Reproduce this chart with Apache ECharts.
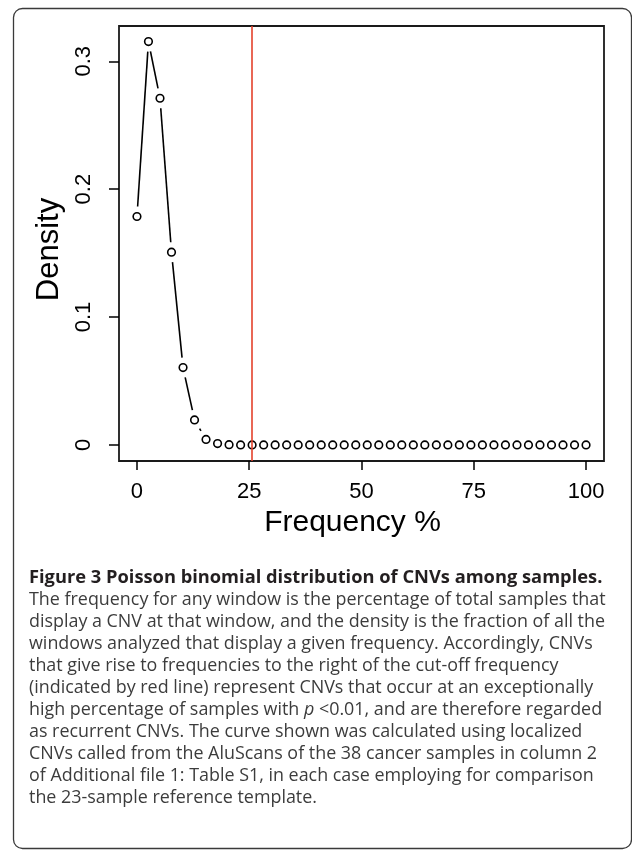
<!DOCTYPE html>
<html>
<head>
<meta charset="utf-8">
<script src="https://cdn.jsdelivr.net/npm/echarts@6/dist/echarts.min.js"></script>
<style>
html,body{margin:0;padding:0;background:#fff;}
#chart{width:632px;height:852px;}
</style>
</head>
<body>
<div id="chart"></div>
<script>
// Frequency (%) of each window class
const freq = [0, 2.56, 5.13, 7.69, 10.26, 12.82, 15.38, 17.95, 20.51, 23.08,
  25.64, 28.21, 30.77, 33.33, 35.90, 38.46, 41.03, 43.59, 46.15, 48.72,
  51.28, 53.85, 56.41, 58.97, 61.54, 64.10, 66.67, 69.23, 71.79, 74.36,
  76.92, 79.49, 82.05, 84.62, 87.18, 89.74, 92.31, 94.87, 97.44, 100];
// Density
const density = [0.1786, 0.3154, 0.2711, 0.1507, 0.0605, 0.0195, 0.0043, 0.0010, 0.0002, 0,
  0, 0, 0, 0, 0, 0, 0, 0, 0, 0,
  0, 0, 0, 0, 0, 0, 0, 0, 0, 0,
  0, 0, 0, 0, 0, 0, 0, 0, 0, 0];
const cutoff = 25.64;
const xTicks = [0, 25, 50, 75, 100];
const yTicks = [0, 0.1, 0.2, 0.3];
const yTickLabels = ['0', '0.1', '0.2', '0.3'];
const xTitle = 'Frequency %';
const yTitle = 'Density';
const captionTitle = 'Figure 3 Poisson binomial distribution of CNVs among samples.';
const captionLines = [
  'The frequency for any window is the percentage of total samples that',
  'display a CNV at that window, and the density is the fraction of all the',
  'windows analyzed that display a given frequency. Accordingly, CNVs',
  'that give rise to frequencies to the right of the cut-off frequency',
  '(indicated by red line) represent CNVs that occur at an exceptionally',
  'high percentage of samples with {i|p} <0.01, and are therefore regarded',
  'as recurrent CNVs. The curve shown was calculated using localized',
  'CNVs called from the AluScans of the 38 cancer samples in column 2',
  'of Additional file 1: Table S1, in each case employing for comparison',
  'the 23-sample reference template.'
];

const points = freq.map((f, i) => [f, density[i]]);
const segs = [];
for (let i = 0; i < points.length - 1; i++) {
  segs.push([points[i][0], points[i][1], points[i + 1][0], points[i + 1][1]]);
}
const GAP = 10;
const AXFONT = '"Liberation Sans", Arial, Helvetica, sans-serif';
const CAPFONT = '"Open Sans", "Noto Sans", sans-serif';
const BODYSIZE = 17.9;

const graphics = [
  {
    type: 'rect', silent: true,
    shape: { x: 13.5, y: 8.5, width: 618, height: 840, r: 9 },
    style: { fill: 'none', stroke: '#3a3a3a', lineWidth: 1.3 }
  },
  {
    type: 'text', x: 29, y: 578,
    style: { text: captionTitle, font: 'bold 18.3px ' + CAPFONT, fill: '#231f20', verticalAlign: 'middle' }
  }
];
captionLines.forEach((t, i) => {
  graphics.push({
    type: 'text', x: 29, y: 600 + i * 22,
    style: {
      text: t, font: BODYSIZE + 'px ' + CAPFONT, fill: '#3c3c3c', verticalAlign: 'middle',
      rich: { i: { fontStyle: 'italic', fontFamily: CAPFONT, fontSize: BODYSIZE, fill: '#3c3c3c' } }
    }
  });
});

const chart = echarts.init(document.getElementById('chart'), null, { renderer: 'canvas' });
chart.setOption({
  animation: false,
  backgroundColor: '#fff',
  grid: {
    left: 119, top: 26, right: 28, bottom: 391,
    show: true, borderColor: '#1a1a1a', borderWidth: 1.8, backgroundColor: 'transparent'
  },
  xAxis: {
    type: 'value', min: -4, max: 104,
    name: xTitle, nameLocation: 'middle', nameGap: 47,
    nameTextStyle: { fontFamily: AXFONT, fontSize: 30, color: '#000', padding: [0, 18, 0, 0] },
    axisLine: { show: false, onZero: false },
    splitLine: { show: false },
    axisTick: { show: true, length: 9, customValues: xTicks, lineStyle: { color: '#000', width: 1.5 } },
    axisLabel: { customValues: xTicks, margin: 20, fontFamily: AXFONT, fontSize: 22, color: '#000' }
  },
  yAxis: {
    type: 'value', min: -0.0126, max: 0.3276,
    name: yTitle, nameLocation: 'middle', nameGap: 54, nameRotate: 90,
    nameTextStyle: { fontFamily: AXFONT, fontSize: 31, color: '#000', padding: [0, 12, 0, 0] },
    axisLine: { show: false, onZero: false },
    splitLine: { show: false },
    axisTick: { show: true, length: 10, customValues: yTicks, lineStyle: { color: '#000', width: 1.5 } },
    axisLabel: {
      customValues: yTicks, rotate: 90, margin: 24, fontFamily: AXFONT, fontSize: 22, color: '#000',
      formatter: v => { const k = yTicks.findIndex(t => Math.abs(t - v) < 1e-9); return k >= 0 ? yTickLabels[k] : ''; }
    }
  },
  series: [
    {
      type: 'custom', silent: true,
      data: segs,
      encode: { x: [0, 2], y: [1, 3] },
      renderItem: function (params, api) {
        const p0 = api.coord([api.value(0), api.value(1)]);
        const p1 = api.coord([api.value(2), api.value(3)]);
        const dx = p1[0] - p0[0], dy = p1[1] - p0[1];
        const d = Math.hypot(dx, dy);
        if (d <= 2 * GAP) return { type: 'group', children: [] };
        const ux = dx / d, uy = dy / d;
        return {
          type: 'line',
          shape: { x1: p0[0] + ux * GAP, y1: p0[1] + uy * GAP, x2: p1[0] - ux * GAP, y2: p1[1] - uy * GAP },
          style: { stroke: '#000', lineWidth: 1.6 }
        };
      }
    },
    {
      type: 'scatter', silent: true,
      data: points,
      symbol: 'circle', symbolSize: 7.6,
      itemStyle: { color: 'rgba(0,0,0,0)', borderColor: '#000', borderWidth: 1.6, opacity: 1 },
      markLine: {
        silent: true, symbol: ['none', 'none'], label: { show: false },
        lineStyle: { color: '#e4412b', width: 1.6, type: 'solid' },
        data: [{ xAxis: cutoff }]
      }
    }
  ],
  graphic: graphics
});
</script>
</body>
</html>
